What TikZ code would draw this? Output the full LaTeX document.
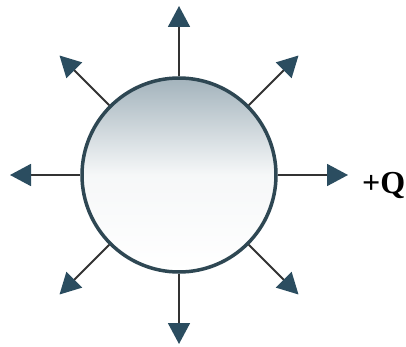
\documentclass[tikz,border=0pt]{standalone}
\usepackage{fontspec}
\setmainfont{Liberation Serif}
\usetikzlibrary{arrows.meta,positioning,calc}
\definecolor{rim}{HTML}{2E4753}
\definecolor{tipblue}{HTML}{2B4D60}
\definecolor{shadetop}{HTML}{A3B3BC}

\begin{document}
\begin{tikzpicture}[
  x=1pt, y=1pt,
  sphere/.style={circle, draw=rim, line width=3.5pt, minimum size=194pt, inner sep=0pt,
                 top color=shadetop, bottom color=white, middle color=shadetop!10},
  fieldarr/.style={-{Triangle[length=21pt,width=22pt,color=tipblue]}, draw=black!80, line width=1.8pt},
  lbl/.style={font=\fontsize{32}{32}\selectfont\bfseries}
]
\useasboundingbox (0,0) rectangle (406,346);
\node[sphere] (ball) at (179,171) {};
% field lines
\foreach \a in {0,45,...,315} {
  \coordinate (tip\a) at ($(ball.center)!169pt!(ball.\a)$);
  \draw[fieldarr] (ball.\a) -- (tip\a);
}
\node[lbl, anchor=west, inner sep=0pt] (charge) at (362,161) {+Q};
\end{tikzpicture}
\end{document}
